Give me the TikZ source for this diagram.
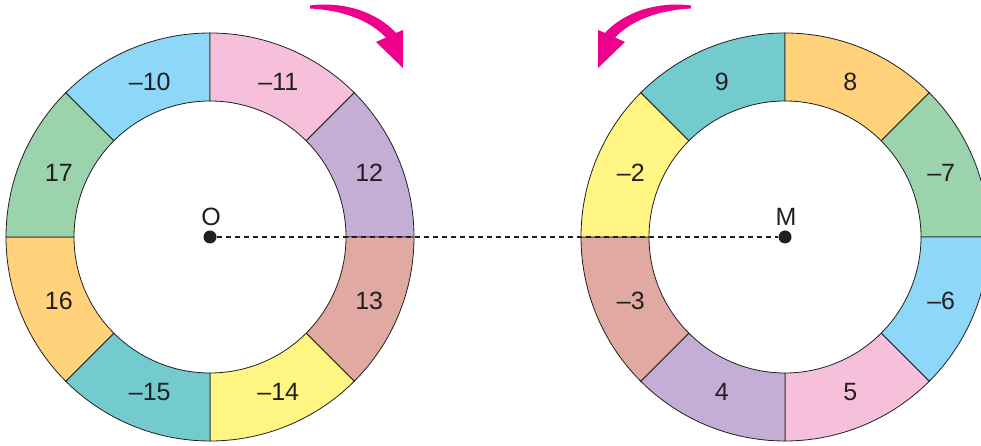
\documentclass[tikz,border=0pt]{standalone}
\usepackage{fontspec}
\setmainfont{Liberation Sans}
\definecolor{cblue}{HTML}{8DD8F8}
\definecolor{cpink}{HTML}{F6C0DA}
\definecolor{clav}{HTML}{C4AED6}
\definecolor{crose}{HTML}{E0A9A2}
\definecolor{cyel}{HTML}{FFF582}
\definecolor{cteal}{HTML}{74CBCE}
\definecolor{corange}{HTML}{FFD27B}
\definecolor{cgreen}{HTML}{9AD3AC}
\definecolor{cmag}{HTML}{EC008C}
\definecolor{cink}{HTML}{231F20}
\begin{document}
\begin{tikzpicture}[x=1pt,y=1pt,
  seg/.style={draw=cink, line width=0.8pt},
  lab/.style={font=\fontsize{25}{29}\selectfont, text=cink},
  ctr/.style={circle, fill=cink, inner sep=0pt, minimum size=13pt},
  ctrlab/.style={font=\fontsize{25}{29}\selectfont, text=cink},
  conn/.style={draw=cink, dash pattern=on 5pt off 4pt, line width=1.3pt},
  turn/.style={fill=cmag}]
\useasboundingbox (0,0) rectangle (981,446);
\clip (0,0) rectangle (981,446);
\coordinate (O) at (210,209);
\coordinate (M) at (785,209);
% left ring
\foreach \a/\c/\t in {90/cblue/–10, 45/cpink/–11, 0/clav/12, -45/crose/13, -90/cyel/–14, -135/cteal/–15, -180/corange/16, 135/cgreen/17}{
  \pgfmathsetmacro\e{\a+45}
  \pgfmathsetmacro\m{\a+22.5}
  \filldraw[seg, fill=\c] ([shift={(\a:204)}]O) arc[start angle=\a, end angle=\e, radius=204]
    -- ([shift={(\e:136)}]O) arc[start angle=\e, end angle=\a, radius=136] -- cycle;
  \node[lab] at ([shift={(\m:168)}, xshift=4]O) {\t};
}
% right ring
\foreach \a/\c/\t in {90/cteal/9, 45/corange/8, 0/cgreen/–7, -45/cblue/–6, -90/cpink/5, -135/clav/4, -180/crose/–3, 135/cyel/–2}{
  \pgfmathsetmacro\e{\a+45}
  \pgfmathsetmacro\m{\a+22.5}
  \filldraw[seg, fill=\c] ([shift={(\a:204)}]M) arc[start angle=\a, end angle=\e, radius=204]
    -- ([shift={(\e:136)}]M) arc[start angle=\e, end angle=\a, radius=136] -- cycle;
  \node[lab] at ([shift={(\m:168)}, xshift=1]M) {\t};
}
% centres
\node[ctr] (Od) at (O) {};
\node[ctr] (Md) at (M) {};
\draw[conn] (Od) -- (Md);
\node[ctrlab] at ([xshift=1,yshift=20]O) {O};
\node[ctrlab] at ([xshift=1,yshift=20]M) {M};
% rotation arrows
\begin{scope}[shift={(0,446)}, yscale=-1]
\fill[turn] (310,5.5) .. controls (345,1) and (378,13) .. (396,33) -- (403,30) -- (403,68) -- (376,42) -- (386,37.5) .. controls (370,21) and (345,10.5) .. (310,8.5) -- cycle;
\fill[turn] (691,5.5) .. controls (656,1) and (623,13) .. (605,33) -- (598,30) -- (598,68) -- (625,42) -- (615,37.5) .. controls (631,21) and (656,10.5) .. (691,8.5) -- cycle;
\end{scope}
\end{tikzpicture}
\end{document}
